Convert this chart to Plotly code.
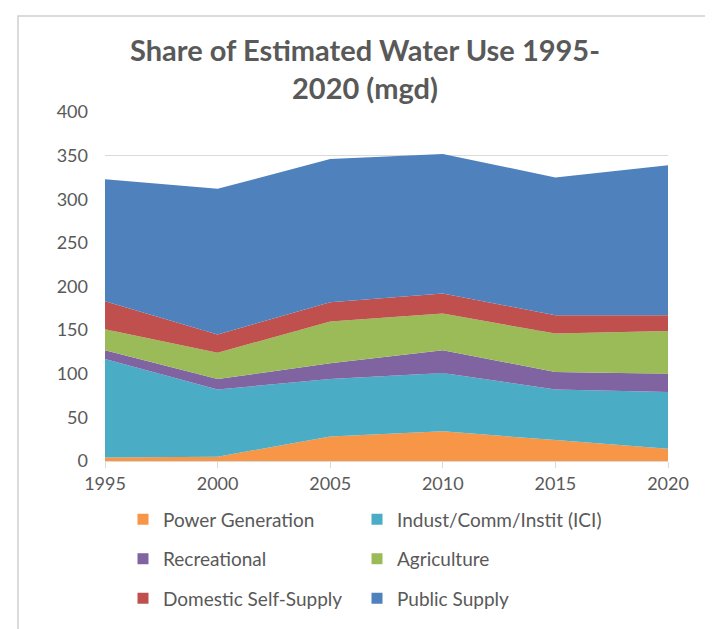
import plotly.graph_objects as go

years = [1995, 2000, 2005, 2010, 2015, 2020]
power_generation = [4, 5, 28, 34, 24, 14]
ici = [113, 77, 66, 67, 58, 65]
recreational = [10, 12, 18, 26, 20, 21]
agriculture = [24, 30, 48, 42, 44, 49]
domestic_self_supply = [32, 21, 22, 23, 21, 18]
public_supply = [140, 167, 164, 160, 158, 172]

series_names = ["Power Generation", "Indust/Comm/Instit (ICI)", "Recreational",
                "Agriculture", "Domestic Self-Supply", "Public Supply"]
series_values = [power_generation, ici, recreational, agriculture,
                 domestic_self_supply, public_supply]
series_colors = ["#F79646", "#4BACC6", "#8064A2", "#9BBB59", "#C0504D", "#4F81BD"]

FONT = "Lato"
GREY = "#595959"

fig = go.Figure()
for name, vals, color in zip(series_names, series_values, series_colors):
    fig.add_trace(go.Scatter(
        x=years, y=vals, name=name, mode="lines",
        stackgroup="one", line=dict(width=0, color=color),
        fillcolor=color, showlegend=False,
    ))

W, H = 705, 621
L, R, T, B = 97, 45, 104, 164
pw = W - L - R
ph = H - T - B

def px_x(p):
    return (p - L) / pw

def px_y(p):
    return (H - B - p) / ph

leg_common = dict(
    orientation="h", xanchor="left", yanchor="middle",
    font=dict(family=FONT, size=19, color=GREY),
    traceorder="normal", bgcolor="rgba(0,0,0,0)",
    itemwidth=30,
)
col_x = [115, 349]
row_y = [516, 556, 596]

legend_layout = {}
for i, (name, color) in enumerate(zip(series_names, series_colors)):
    key = "legend" if i == 0 else f"legend{i + 1}"
    r, c = divmod(i, 2)
    legend_layout[key] = dict(x=px_x(col_x[c]), y=px_y(row_y[r]), **leg_common)
    fig.add_trace(go.Scatter(
        x=[None], y=[None], name=name, mode="markers",
        marker=dict(symbol="square", size=11, color=color),
        legend=key, showlegend=True,
    ))

fig.update_layout(
    width=W, height=H,
    margin=dict(l=L, r=R, t=T, b=B),
    paper_bgcolor="white", plot_bgcolor="white",
    font=dict(family=FONT, color=GREY),
    title=dict(
        text="<b>Share of Estimated Water Use 1995-<br>2020 (mgd)</b>",
        x=357 / W, xanchor="center", y=1 - 53 / H, yanchor="middle",
        font=dict(family=FONT, size=29, color=GREY),
    ),
    showlegend=True,
    xaxis=dict(
        range=[1995, 2020], tickvals=years, ticktext=[str(y) for y in years],
        showgrid=False, zeroline=False,
        showline=True, linecolor="#d9d9d9", linewidth=1,
        ticks="outside", ticklen=6, tickcolor="#d9d9d9",
        tickfont=dict(family=FONT, size=18, color=GREY),
    ),
    yaxis=dict(
        range=[0, 400], dtick=50, showgrid=True, gridcolor="#d9d9d9",
        zeroline=False, showline=False,
        ticks="", ticklabelstandoff=16,
        tickfont=dict(family=FONT, size=18, color=GREY),
    ),
    shapes=[dict(
        type="rect", xref="paper", yref="paper",
        x0=px_x(10), x1=px_x(702), y0=px_y(640), y1=px_y(7),
        line=dict(color="#d0d0d0", width=1.5), fillcolor="rgba(0,0,0,0)",
        layer="below",
    )],
    **legend_layout,
)

fig.write_html("out.html")
